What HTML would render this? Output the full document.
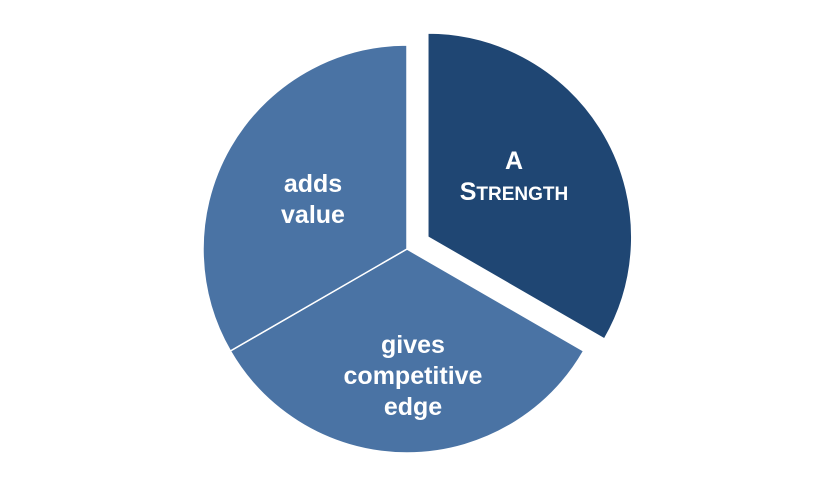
<!DOCTYPE html>
<html><head><meta charset="utf-8"><style>
html,body{margin:0;padding:0;background:#fff;}
svg text{font-family:"Liberation Sans",sans-serif;font-weight:bold;fill:#fff;}
</style></head><body>
<svg id="chart" width="834" height="490" viewBox="0 0 834 490" xmlns="http://www.w3.org/2000/svg"></svg>
<script>
const categories = ["A Strength", "gives competitive edge", "adds value"];
const values = [1, 1, 1];
const explode = [1, 0, 0];
const svg = document.getElementById('chart');
const NS = 'http://www.w3.org/2000/svg';
const cx = 407, cy = 249, r = 204, off = 24;
const colors = ["#1f4673", "#4a73a4", "#4a73a4"];
const total = values.reduce((a, b) => a + b, 0);
let a0 = 0;
function pt(a, rad, ox, oy) { return [ox + rad * Math.sin(a), oy - rad * Math.cos(a)]; }
values.forEach((v, i) => {
  const a1 = a0 + v / total * 2 * Math.PI;
  const mid = (a0 + a1) / 2;
  const ox = cx + explode[i] * off * Math.sin(mid), oy = cy - explode[i] * off * Math.cos(mid);
  const p0 = pt(a0, r, ox, oy), p1 = pt(a1, r, ox, oy);
  const large = (a1 - a0) > Math.PI ? 1 : 0;
  const path = document.createElementNS(NS, 'path');
  path.setAttribute('d', `M${ox},${oy} L${p0[0]},${p0[1]} A${r},${r} 0 ${large} 1 ${p1[0]},${p1[1]} Z`);
  path.setAttribute('fill', colors[i]);
  path.setAttribute('stroke', '#ffffff');
  path.setAttribute('stroke-width', '1.5');
  
  
  svg.appendChild(path);
  a0 = a1;
});
function label(lines, x, y, name) {
  const t = document.createElementNS(NS, 'text');
  
  
  t.setAttribute('text-anchor', 'middle');
  t.setAttribute('font-size', '25');
  lines.forEach((l, k) => {
    const s = document.createElementNS(NS, 'tspan');
    s.setAttribute('x', x);
    s.setAttribute('y', y + k * 31);
    s.innerHTML = l;
    t.appendChild(s);
  });
  svg.appendChild(t);
}
label(['A', 'S<tspan font-size="19">TRENGTH</tspan>'], 514, 169, 'label-a-strength');
label(['adds', 'value'], 313, 192, 'label-adds-value');
label(['gives', 'competitive', 'edge'], 413, 353, 'label-gives-competitive-edge');
</script>
</body></html>
